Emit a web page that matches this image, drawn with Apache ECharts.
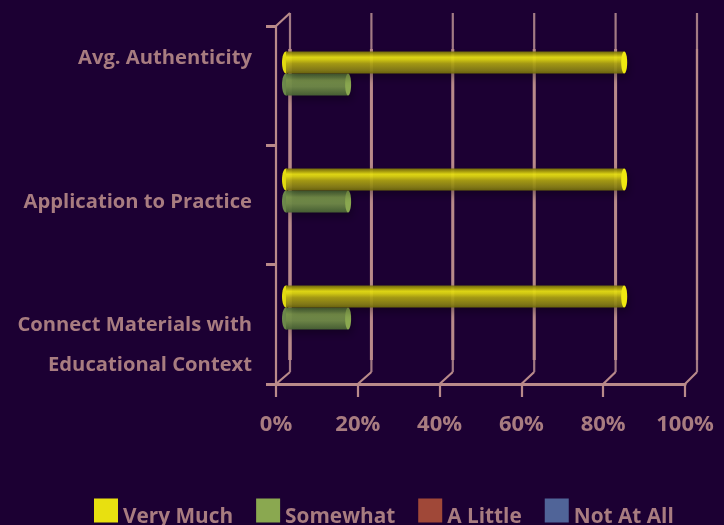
<!DOCTYPE html>
<html><head><meta charset="utf-8">
<style>html,body{margin:0;padding:0;background:#1c0033}#c{width:724px;height:525px}</style>
<script src="https://cdn.jsdelivr.net/npm/echarts@6/dist/echarts.min.js"></script>
</head><body><div id="c"></div>
<script>
const categories = ['Avg. Authenticity', 'Application to Practice', 'Connect Materials with\nEducational Context'];
const tickValues = [0, 20, 40, 60, 80, 100];
const veryMuch = [83.3, 83.3, 83.3];
const somewhat = [15.3, 15.3, 15.3];
const aLittle = [0, 0, 0];
const notAtAll = [0, 0, 0];

const LINE = '#b98a8a', TEXT = '#a87c80', FONT = '"Open Sans"';
const DY = -12;
const chart = echarts.init(document.getElementById('c'), null, {renderer: 'canvas'});

function frameItem(params, api) {
  const v = api.value(0);
  const cs = params.coordSys;
  const bottom = cs.y + cs.height, top = cs.y;
  const x = api.coord([v, 0])[0];
  const dx = 14 - 2 * v / 100;
  const bx = x + dx, by = bottom + DY, ty = top + DY - 1;
  const children = [
    {type: 'line', shape: {x1: x, y1: bottom, x2: bx, y2: by}, style: {stroke: LINE, lineWidth: 2.2}},
    {type: 'line', shape: {x1: bx, y1: ty, x2: bx, y2: by}, style: {stroke: '#a27a84', lineWidth: 2.2}},
    {type: 'line', shape: {x1: bx, y1: top + 23, x2: bx, y2: bottom - 24}, style: {stroke: LINE, lineWidth: v === 0 ? 3.5 : (v === 100 ? 2.2 : 3)}}
  ];
  if (v === 0) children.push({type: 'line', shape: {x1: x, y1: top, x2: bx, y2: ty}, style: {stroke: LINE, lineWidth: 2.2}});
  return {type: 'group', children};
}

function cylinder(offset, grad, capL, capR) {
  return function (params, api) {
    const catIndex = api.value(1);
    const p0 = api.coord([0, catIndex]);
    const p1 = api.coord([api.value(0), catIndex]);
    const band = api.size([0, 1])[1];
    const h = band * 0.188;
    if (api.value(0) <= 0) return {type: 'group', children: []};
    const yTop = p0[1] + offset * h;
    const cy = yTop + h / 2;
    return {type: 'group', children: [
      {type: 'ellipse', shape: {cx: p0[0], cy, rx: 4, ry: h / 2}, style: {fill: capL}},
      {type: 'rect', shape: {x: p0[0], y: yTop, width: p1[0] - p0[0], height: h},
        style: {fill: new echarts.graphic.LinearGradient(0, 0, 0, 1, grad), shadowBlur: 8, shadowColor: 'rgba(0,0,0,0.35)', shadowOffsetX: 4, shadowOffsetY: 4}},
      {type: 'ellipse', shape: {cx: p1[0], cy, rx: 3, ry: h / 2}, style: {fill: capR}}
    ]};
  };
}

const yellowGrad = [
  {offset: 0, color: 'rgba(120,112,10,0.92)'}, {offset: 0.14, color: 'rgba(180,170,12,0.93)'},
  {offset: 0.26, color: 'rgba(232,224,20,0.95)'}, {offset: 0.36, color: 'rgba(222,214,18,0.93)'},
  {offset: 0.55, color: 'rgba(178,168,18,0.9)'}, {offset: 0.85, color: 'rgba(140,132,22,0.9)'},
  {offset: 1, color: 'rgba(112,106,10,0.92)'}];
const greenGrad = [
  {offset: 0, color: 'rgba(85,115,60,0.95)'}, {offset: 0.3, color: 'rgba(122,150,75,0.95)'},
  {offset: 0.6, color: 'rgba(112,138,72,0.95)'}, {offset: 1, color: 'rgba(72,98,52,0.95)'}];

const pair = a => a.map((v, i) => [v, i]);
const barSeries = (name, data, color, offset, grad, capL, capR) => ({
  name, type: 'custom', xAxisIndex: 1, yAxisIndex: 1, z: 5, coordinateSystem: 'cartesian2d',
  itemStyle: {color}, data: pair(data), encode: {x: 0, y: 1},
  renderItem: cylinder(offset, grad, capL, capR), clip: false
});

chart.setOption({
  backgroundColor: '#1c0033',
  animation: false,
  legend: {
    left: 94, top: 493, padding: 0, itemWidth: 24, itemHeight: 24, itemGap: 23, icon: 'rect',
    selectedMode: false,
    data: ['Very Much', 'Somewhat', 'A Little', 'Not At All'],
    formatter: n => '\n' + n,
    textStyle: {color: TEXT, fontFamily: FONT, fontWeight: 'bold', fontSize: 20.8, lineHeight: 14}
  },
  grid: [
    {left: 276, top: 26, width: 409, height: 358, outerBoundsMode: 'none'},
    {left: 286, top: 15, width: 406, height: 351, outerBoundsMode: 'none'},
    {left: 276, top: -13.5, width: 409, height: 430.5, outerBoundsMode: 'none'}
  ],
  xAxis: [
    {gridIndex: 0, type: 'value', min: 0, max: 100, interval: 20,
      axisLine: {show: true, lineStyle: {color: LINE, width: 3}},
      axisTick: {show: true, length: 13, lineStyle: {color: LINE, width: 2.2}},
      splitLine: {show: false},
      axisLabel: {color: TEXT, fontFamily: FONT, fontWeight: 'bold', fontSize: 22, margin: 30, formatter: '{value}%'}},
    {gridIndex: 1, type: 'value', min: 0, max: 100, show: false},
    {gridIndex: 2, type: 'value', min: 0, max: 100, show: false}
  ],
  yAxis: [
    {gridIndex: 0, type: 'category', inverse: true, data: categories,
      axisLine: {show: true, lineStyle: {color: LINE, width: 2.2}},
      axisTick: {show: true, length: 10, lineStyle: {color: LINE, width: 3}},
      axisLabel: {show: false}, splitLine: {show: false}},
    {gridIndex: 1, type: 'category', inverse: true, data: categories, show: false},
    {gridIndex: 2, type: 'category', inverse: true, data: categories,
      axisLine: {show: false}, axisTick: {show: false},
      axisLabel: {color: TEXT, fontFamily: FONT, fontWeight: 'bold', fontSize: 20.2, margin: 24, lineHeight: 40, align: 'right'}}
  ],
  series: [
    {type: 'custom', xAxisIndex: 0, yAxisIndex: 0, z: 1, silent: true, clip: false,
      data: tickValues.map(v => [v, 0]), encode: {x: 0, y: 1}, renderItem: frameItem},
    barSeries('Somewhat', somewhat, '#8aa850', 0, greenGrad, '#6f8c4c', '#8aa850'),
    barSeries('Very Much', veryMuch, '#e8e010', -1, yellowGrad, '#e8e010', '#f0e810'),
    barSeries('A Little', aLittle, '#a04838', 0, greenGrad, '#a04838', '#a04838'),
    barSeries('Not At All', notAtAll, '#506498', 0, greenGrad, '#506498', '#506498')
  ]
});
</script></body></html>
